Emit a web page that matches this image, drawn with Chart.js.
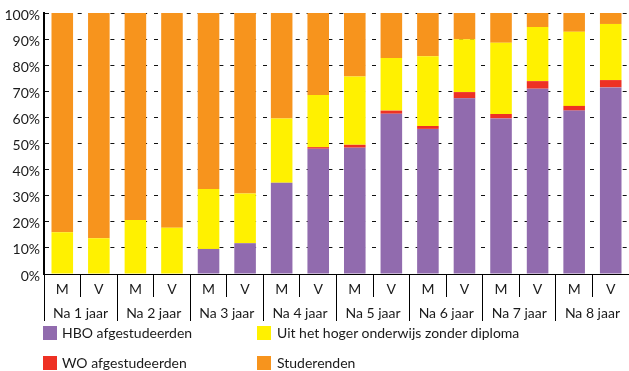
<!DOCTYPE html>
<html>
<head>
<meta charset="utf-8">
<script src="https://cdn.jsdelivr.net/npm/chart.js@4/dist/chart.umd.min.js"></script>
<style>
  html, body { margin: 0; padding: 0; background: #fff; }
  #wrap { position: relative; width: 629px; height: 371px; overflow: hidden; }
  #chart { position: absolute; left: 0; top: 0; }
  .leg { position: absolute; font-family: Lato, sans-serif; font-size: 14px; color: #1a1a1a; line-height: 14px; white-space: nowrap; }
  .sw { position: absolute; width: 14px; height: 14px; }
</style>
</head>
<body>
<div id="wrap">
  <canvas id="chart" width="629" height="371"></canvas>
  <div class="sw" style="left:43px;top:326px;background:#916BAE"></div>
  <div class="leg" style="left:62px;top:326px">HBO afgestudeerden</div>
  <div class="sw" style="left:257px;top:326px;background:#FFF100"></div>
  <div class="leg" style="left:277px;top:326px">Uit het hoger onderwijs zonder diploma</div>
  <div class="sw" style="left:43px;top:356px;background:#EE3124"></div>
  <div class="leg" style="left:62px;top:356px">WO afgestudeerden</div>
  <div class="sw" style="left:257px;top:356px;background:#F7941D"></div>
  <div class="leg" style="left:277px;top:356px">Studerenden</div>
</div>
<script>
// Gender per bar (M = mannen, V = vrouwen) and the year groups underneath
const sexes = ['M','V','M','V','M','V','M','V','M','V','M','V','M','V','M','V'];
const years = ['Na 1 jaar','Na 2 jaar','Na 3 jaar','Na 4 jaar','Na 5 jaar','Na 6 jaar','Na 7 jaar','Na 8 jaar'];

// Share of the cohort (%) per status
const hboGrad   = [0, 0, 0, 0, 9.6, 11.8, 35, 48, 48.4, 61.4, 55.6, 67.3, 59.6, 71, 62.6, 71.5];
const woGrad    = [0, 0, 0, 0, 0, 0, 0, 0.6, 1.1, 1.2, 1.1, 2.4, 1.7, 2.9, 1.8, 2.8];
const dropouts  = [16, 13.7, 20.7, 17.7, 23, 19, 24.6, 20, 26.2, 20.2, 26.7, 20.2, 27.3, 20.7, 28.4, 21.5];
const studying  = [84, 86.3, 79.3, 82.3, 67.4, 69.2, 40.4, 31.4, 24.3, 17.2, 16.6, 10.1, 11.4, 5.4, 7.2, 4.2];

const yTicks = [0, 10, 20, 30, 40, 50, 60, 70, 80, 90, 100];

const font = { family: 'Lato, sans-serif', size: 14 };
const ink = '#1a1a1a';

new Chart(document.getElementById('chart'), {
  type: 'bar',
  data: {
    labels: sexes,
    datasets: [
      { label: 'HBO afgestudeerden', data: hboGrad, backgroundColor: '#916BAE' },
      { label: 'WO afgestudeerden', data: woGrad, backgroundColor: '#EE3124' },
      { label: 'Uit het hoger onderwijs zonder diploma', data: dropouts, backgroundColor: '#FFF100' },
      { label: 'Studerenden', data: studying, backgroundColor: '#F7941D' }
    ]
  },
  options: {
    responsive: false,
    animation: false,
    layout: { padding: { top: 13, right: -3, bottom: 50, left: 0 } },
    categoryPercentage: 1,
    barPercentage: 0.59,
    plugins: { legend: { display: false }, tooltip: { enabled: false } },
    scales: {
      x: {
        stacked: true,
        position: 'bottom',
        weight: 0,
        offset: true,
        grid: { display: true, offset: true, drawOnChartArea: false, drawTicks: true, tickLength: 23, color: '#000', lineWidth: 1 },
        border: { display: true, color: '#000', width: 1 },
        ticks: { font: font, color: ink, padding: -16, maxRotation: 0, autoSkip: false },
        afterFit: s => { s.height = 23; }
      },
      x2: {
        type: 'category',
        labels: years,
        position: 'bottom',
        weight: 1,
        offset: true,
        grid: { display: true, offset: true, drawOnChartArea: false, drawTicks: true, tickLength: 24, color: '#000', lineWidth: 1 },
        border: { display: false },
        ticks: { font: font, color: ink, padding: -16, maxRotation: 0, autoSkip: false },
        afterFit: s => { s.height = 24; }
      },
      y: {
        stacked: true,
        min: 0,
        max: 100,
        afterBuildTicks: s => { s.ticks = yTicks.map(v => ({ value: v })); },
        grid: { color: '#111', lineWidth: 1, drawTicks: false },
        border: { display: true, color: '#000', width: 2, dash: [4, 6.9] },
        ticks: { font: font, color: ink, padding: 4, labelOffset: 2, callback: v => v + '%' },
        afterFit: s => { s.width = 44; }
      }
    }
  }
});
</script>
</body>
</html>
